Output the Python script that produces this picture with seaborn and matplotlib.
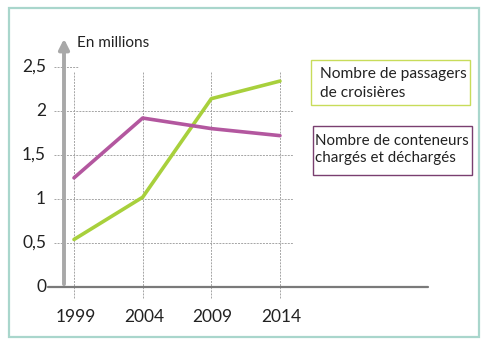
import matplotlib
matplotlib.use("Agg")
import matplotlib.pyplot as plt
import seaborn as sns
import pandas as pd
from matplotlib.patches import Rectangle

years = [1999, 2004, 2009, 2014]
passagers = [0.54, 1.02, 2.14, 2.34]
conteneurs = [1.24, 1.92, 1.80, 1.72]
ytick_vals = [0, 0.5, 1, 1.5, 2, 2.5]
ytick_labels = ["0", "0,5", "1", "1,5", "2", "2,5"]
series_names = ["Nombre de passagers\nde croisières", "Nombre de conteneurs\nchargés et déchargés"]
y_title = "En millions"

GREEN = "#a8d03c"
MAGENTA = "#b3579f"

sns.set_theme(style="white")
plt.rcParams['font.family'] = ['Lato', 'DejaVu Sans']

W, H = 485, 344
fig = plt.figure(figsize=(W / 100, H / 100), dpi=100)
fig.patch.set_facecolor("white")

def fx(px):
    return px / W
def fy(py):
    return 1 - py / H

x0px, x1px = 40, 435
ytop_px, y0_px = 30, 287
ppy = 13.73  # px per year
ppu = 88.0   # px per unit
ax = fig.add_axes([fx(x0px), fy(y0_px), (x1px - x0px) / W, (y0_px - ytop_px) / H])
ax.set_xlim(1999 + (x0px - 74) / ppy, 1999 + (x1px - 74) / ppy)
ax.set_ylim(0, (y0_px - ytop_px) / ppu)
for s in ax.spines.values():
    s.set_visible(False)
ax.set_facecolor("white")

def xd(px):
    return 1999 + (px - 74) / ppy

grid_kw = dict(color="#a5a5a5", lw=0.7, ls=(0, (2, 1.2)), zorder=1)
for v in ytick_vals[1:]:
    if v == 2.5:
        ax.plot([xd(54), xd(78)], [v, v], **grid_kw)
    else:
        ax.plot([xd(54), xd(293)], [v, v], **grid_kw)
for yr in years:
    ax.plot([yr, yr], [-0.13, 2.45], clip_on=False, **grid_kw)

ax.plot([xd(48), xd(428)], [0, 0], color="#7a7a7a", lw=1.6, zorder=3, clip_on=False)
ax.annotate("", xy=(xd(64), (287 - 36) / ppu), xytext=(xd(64), 0),
            arrowprops=dict(arrowstyle="-|>,head_width=0.25,head_length=0.5",
                            color="#a8a8a8", lw=2.8), zorder=3)

df = pd.DataFrame({
    "year": years * 2,
    "value": passagers + conteneurs,
    "serie": [series_names[0]] * 4 + [series_names[1]] * 4,
})
sns.lineplot(data=df, x="year", y="value", hue="serie",
             palette={series_names[0]: GREEN, series_names[1]: MAGENTA},
             linewidth=2.6, legend=False, ax=ax, zorder=4)
ax.set_xlabel("")
ax.set_ylabel("")
ax.set_xticks([])
ax.set_yticks([])

for yr in years:
    ax.text(yr + 0.1, (287 - 317) / ppu, str(yr), ha="center", va="center",
            fontsize=12.5, color="#222222", clip_on=False)
for v, lab in zip(ytick_vals, ytick_labels):
    ax.text(xd(46), v, lab, ha="right", va="center", fontsize=12.5,
            color="#222222", clip_on=False)
fig.text(fx(77), fy(43), y_title, ha="left", va="center", fontsize=11, color="#222222")

fig.patches.append(Rectangle((fx(311), fy(105)), (470 - 311) / W, (105 - 60) / H,
                             transform=fig.transFigure, fill=False,
                             edgecolor="#c8dc5a", lw=1.0))
fig.patches.append(Rectangle((fx(313), fy(175)), (472 - 313) / W, (175 - 126) / H,
                             transform=fig.transFigure, fill=False,
                             edgecolor="#7a3f70", lw=1.0))
l1, l2 = series_names[0].split("\n")
fig.text(fx(320), fy(74), l1, ha="left", va="center", fontsize=11.2, color="#222222")
fig.text(fx(320), fy(93), l2, ha="left", va="center", fontsize=11.2, color="#222222")
m1, m2 = series_names[1].split("\n")
fig.text(fx(315), fy(141), m1, ha="left", va="center", fontsize=10.9, color="#222222")
fig.text(fx(315), fy(158), m2, ha="left", va="center", fontsize=10.9, color="#222222")

fig.patches.append(Rectangle((fx(9), fy(337)), (479 - 9) / W, (337 - 8) / H,
                             transform=fig.transFigure, fill=False,
                             edgecolor="#a9d6cc", lw=1.6))

fig.savefig("out.png", dpi=100, facecolor="white")
